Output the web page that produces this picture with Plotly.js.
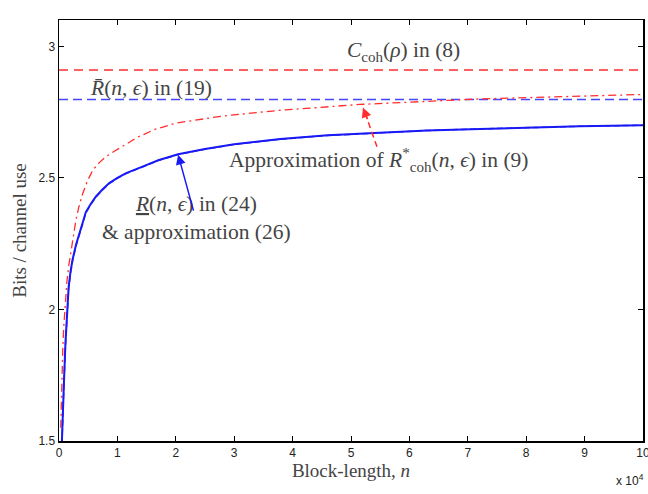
<!DOCTYPE html>
<html>
<head>
<meta charset="utf-8">
<script src="https://cdn.plot.ly/plotly-3.0.1.min.js"></script>
<style>
  html, body { margin: 0; padding: 0; background: #fff; }
  #chart { width: 648px; height: 494px; }
</style>
</head>
<body>
<div id="chart"></div>
<script>
// Block-lengths (n) and rates in bits per channel use
const nLower = [500, 650, 860, 1100, 1370, 1650, 1950, 2300, 2900, 3500, 4000, 4600, 5400, 6300, 7400, 8600, 10000, 11500, 14300, 17000, 20400, 25000, 30000, 37900, 46000, 55000, 63000, 72100, 80000, 89200, 100000];
const rateLower = [1.50, 1.62, 1.73, 1.87, 2.00, 2.085, 2.14, 2.187, 2.245, 2.289, 2.33, 2.37, 2.40, 2.429, 2.455, 2.48, 2.50, 2.518, 2.543, 2.567, 2.59, 2.61, 2.628, 2.648, 2.662, 2.673, 2.68, 2.686, 2.691, 2.696, 2.70];

// Approximation (26) of the lower bound
const nApprox26 = [500, 650, 860, 1100, 1370, 1650, 1950, 2300, 2900, 3500, 4000, 4600, 5400, 6300, 7400, 8600, 10000, 11500, 14300, 17000, 20400, 25000, 30000, 37900, 46000, 55000, 63000, 72100, 80000, 89200, 100000];
const rateApprox26 = [1.49, 1.61, 1.72, 1.86, 1.99, 2.078, 2.134, 2.182, 2.24, 2.285, 2.326, 2.366, 2.397, 2.426, 2.453, 2.478, 2.498, 2.516, 2.541, 2.566, 2.589, 2.609, 2.627, 2.647, 2.661, 2.672, 2.68, 2.686, 2.691, 2.696, 2.70];

// Normal approximation of R*_coh(n, eps) in (9)
const nApprox9 = [300, 400, 500, 650, 800, 1080, 1370, 1700, 2050, 2450, 2900, 3400, 4050, 4900, 5800, 6900, 8000, 9400, 10900, 13500, 16500, 20000, 28000, 37900, 51500, 72000, 100000];
const rateApprox9 = [1.55, 1.66, 1.75, 1.85, 1.93, 2.02, 2.11, 2.17, 2.225, 2.285, 2.34, 2.39, 2.44, 2.49, 2.53, 2.558, 2.58, 2.60, 2.62, 2.655, 2.685, 2.708, 2.735, 2.757, 2.779, 2.80, 2.817];

// Asymptotic levels
const nSpan = [0, 100000];
const capacity = [2.91, 2.91];   // C_coh(rho) in (8)
const upperBar = [2.798, 2.798]; // R-bar(n, eps) in (19)

const xTickVals = [0, 10000, 20000, 30000, 40000, 50000, 60000, 70000, 80000, 90000, 100000];
const xTickText = ['0', '1', '2', '3', '4', '5', '6', '7', '8', '9', '10'];
const yTickVals = [1.5, 2, 2.5, 3];
const yTickText = ['1.5', '2', '2.5', '3'];

const RED = 'rgb(255,45,45)';
const BLUE = 'rgb(25,25,245)';
const LBLUE = 'rgb(70,70,255)';
const SERIF = 'Liberation Serif, Times New Roman, serif';
const SANS = 'Liberation Sans, Arial, sans-serif';

const traces = [
  { x: nSpan, y: capacity, mode: 'lines', line: { color: RED, width: 1.5, dash: '9px,6px' }, hoverinfo: 'skip' },
  { x: nSpan, y: upperBar, mode: 'lines', line: { color: LBLUE, width: 1.5, dash: '9px,5px' }, hoverinfo: 'skip' },
  { x: nApprox9, y: rateApprox9, mode: 'lines', line: { color: RED, width: 1.3, dash: '8px,4px,2px,4px' } },
  { x: nApprox26, y: rateApprox26, mode: 'lines', line: { color: LBLUE, width: 1.5, dash: '6px,3px' } },
  { x: nLower, y: rateLower, mode: 'lines', line: { color: BLUE, width: 2 } }
];

const annFont = { family: SERIF, size: 21.5, color: '#444' };
const tickFont = { family: SANS, size: 12, color: '#222' };

const layout = {
  width: 648, height: 494,
  margin: { l: 59, r: 5, t: 20, b: 53 },
  paper_bgcolor: '#fff', plot_bgcolor: '#fff',
  showlegend: false,
  xaxis: {
    range: [0, 100000], tickvals: xTickVals, ticktext: xTickText,
    ticks: 'inside', ticklen: 5, tickwidth: 1, tickcolor: '#000',
    showline: true, linecolor: '#000', linewidth: 1.5, mirror: 'allticks',
    showgrid: false, zeroline: false, ticklabeloverflow: 'allow',
    tickfont: tickFont,
    title: { text: 'Block-length, <i>n</i>', font: { family: SERIF, size: 19, color: '#444' }, standoff: 3 }
  },
  yaxis: {
    range: [1.5, 3.1], tickvals: yTickVals, ticktext: yTickText,
    ticks: 'inside', ticklen: 5, tickwidth: 1, tickcolor: '#000',
    showline: true, linecolor: '#000', linewidth: 1.5, mirror: 'allticks',
    showgrid: false, zeroline: false, ticklabeloverflow: 'allow',
    tickfont: tickFont,
    title: { text: 'Bits / channel use', font: { family: SERIF, size: 19, color: '#444' }, standoff: 7 }
  },
  shapes: [
    // dashed shaft of the arrow pointing at the (9) curve
    { type: 'line', xref: 'x', yref: 'y', x0: 54450, y0: 2.618, x1: 52600, y1: 2.735,
      line: { color: RED, width: 1.5, dash: '6px,4px' } }
  ],
  annotations: [
    { xref: 'x', yref: 'y', x: 59000, y: 2.982, text: '<i>C</i><sub>coh</sub>(<i>ρ</i>) in (8)', showarrow: false, font: annFont },
    { xref: 'x', yref: 'y', x: 15800, y: 2.843, text: '<i>R̄</i>(<i>n</i>, <i>ϵ</i>) in (19)', showarrow: false, font: annFont },
    { xref: 'x', yref: 'y', x: 54800, y: 2.569, text: 'Approximation of <i>R</i><sup>*</sup><sub>coh</sub>(<i>n</i>, <i>ϵ</i>) in (9)', showarrow: false, font: annFont },
    { xref: 'x', yref: 'y', x: 23600, y: 2.346, text: '<u><i>R</i></u>(<i>n</i>, <i>ϵ</i>) in (24)<br>&amp; approximation (26)', showarrow: false, font: annFont },
    // arrow to the lower-bound curve
    { xref: 'x', yref: 'y', axref: 'x', ayref: 'y', x: 20400, y: 2.588, ax: 23100, ay: 2.37, text: '',
      showarrow: true, arrowhead: 2, arrowsize: 1.3, arrowwidth: 1.5, arrowcolor: BLUE },
    // arrow head at the (9) curve
    { xref: 'x', yref: 'y', x: 52050, y: 2.767, ax: 5, ay: 13, text: '',
      showarrow: true, arrowhead: 2, arrowsize: 1.3, arrowwidth: 1.5, arrowcolor: RED },
    { xref: 'paper', yref: 'paper', x: 1.0, y: 0, xshift: 3, yshift: -39, xanchor: 'right', yanchor: 'middle',
      text: 'x 10<sup>4</sup>', showarrow: false, font: { family: SANS, size: 12, color: '#222' } }
  ]
};

Plotly.newPlot('chart', traces, layout, { displayModeBar: false, staticPlot: true });
</script>
</body>
</html>
